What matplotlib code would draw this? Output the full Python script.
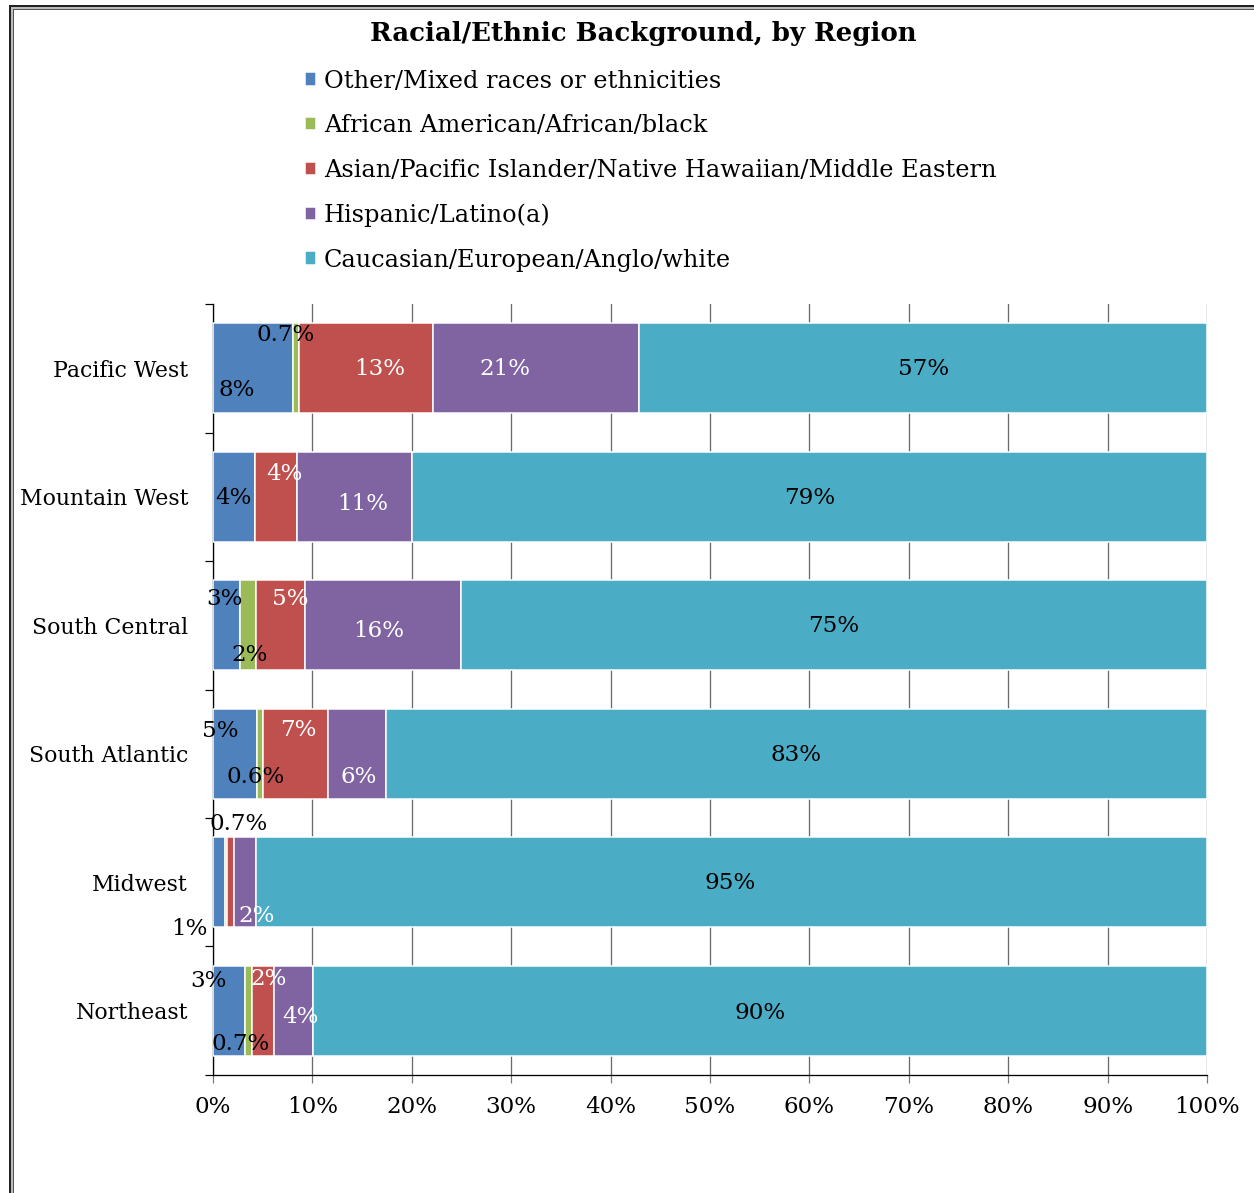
#!/usr/bin/env python3
"""
Racial/Ethnic Background, by Region -- stacked horizontal bars (percent of respondents).
"""

import numpy as np
import matplotlib.pyplot as plt
from matplotlib.lines import Line2D

regions = ['Pacific West', 'Mountain West', 'South Central', 'South Atlantic', 'Midwest', 'Northeast']
groups = ['Other/Mixed races or ethnicities',
          'African American/African/black',
          'Asian/Pacific Islander/Native Hawaiian/Middle Eastern',
          'Hispanic/Latino(a)',
          'Caucasian/European/Anglo/white']

# percent of each region, one list per group
other     = [8.0, 4.2, 2.7, 4.4, 1.2, 3.2]
african   = [0.7, 0.0, 1.6, 0.6, 0.2, 0.7]
asian     = [13.4, 4.3, 5.0, 6.6, 0.7, 2.2]
hispanic  = [20.8, 11.5, 15.6, 5.8, 2.2, 4.0]
caucasian = [57.1, 80.0, 75.1, 82.6, 95.7, 89.9]

# data label text as printed on the chart ('' = no label)
lab_other     = ['8%', '4%', '3%', '5%', '1%', '3%']
lab_african   = ['0.7%', '', '2%', '0.6%', '', '0.7%']
lab_asian     = ['13%', '4%', '5%', '7%', '0.7%', '2%']
lab_hispanic  = ['21%', '11%', '16%', '6%', '2%', '4%']
lab_caucasian = ['57%', '79%', '75%', '83%', '95%', '90%']

colors = ['#4F81BD', '#9BBB59', '#C0504D', '#8064A2', '#4BACC6']
# label colour per group and region
text_colors = [
    ['black'] * 6,
    ['black'] * 6,
    ['white', 'white', 'white', 'white', 'black', 'white'],
    ['white'] * 6,
    ['black'] * 6,
]

# hand-dragged label offsets per group and region (pixels: dx right, dy down)
offsets = [
    [(-16, 22), (0, 1), (-2, -26), (-15, -23), (-30, 47), (-20, -30)],
    [(-10, -33), (0, 0), (2, 30), (-4, 23), (0, 0), (-8, 33)],
    [(14, 1), (8, -23), (10, -26), (3, -24), (8, -58), (6, -32)],
    [(-31, 1), (8, 7), (-4, 6), (2, 23), (12, 34), (7, 6)],
    [(0, 1), (0, 1), (0, 1), (0, 1), (-1, 1), (0, 2)],
]

plt.rcParams['font.family'] = 'DejaVu Serif'

fig = plt.figure(figsize=(1254 / 72, 1193 / 72), dpi=72)
ax = fig.add_axes([213 / 1254, 1 - 1075 / 1193, (1207 - 213) / 1254, (1075 - 304) / 1193])

series = [other, african, asian, hispanic, caucasian]
labels = [lab_other, lab_african, lab_asian, lab_hispanic, lab_caucasian]
y = np.arange(len(regions))
left = np.zeros(len(regions))
handles = []
for s, vals in enumerate(series):
    vals = np.array(vals)
    bars = ax.barh(y, vals, left=left, height=0.70, color=colors[s],
                   edgecolor='white', linewidth=1.5, label=groups[s], zorder=3)
    handles.append(bars)
    for i in range(len(regions)):
        if labels[s][i] == '':
            continue
        dx, dy = offsets[s][i]
        ax.annotate(labels[s][i], xy=(left[i] + vals[i] / 2, y[i]),
                    xytext=(dx, -dy), textcoords='offset points',
                    ha='center', va='center', fontsize=23,
                    color=text_colors[s][i], zorder=5, annotation_clip=False)
    left = left + vals

ax.set_xlim(0, 100)
ax.set_ylim(len(regions) - 0.5, -0.5)

ax.set_xticks(np.arange(0, 101, 10))
ax.set_xticklabels(['{}%'.format(v) for v in range(0, 101, 10)], fontsize=23)
ax.tick_params(axis='x', direction='out', length=8, width=1.2, color='#777777', pad=13)
ax.xaxis.grid(True, color='#6a6a6a', linewidth=1.3, zorder=0)
ax.set_axisbelow(True)

ax.set_yticks(y)
ax.set_yticklabels(regions, fontsize=22)
ax.tick_params(axis='y', which='major', length=0, pad=25)
ax.set_yticks(np.arange(-0.5, len(regions)), minor=True)
ax.tick_params(axis='y', which='minor', direction='out', length=8, width=1.2)

for side in ['top', 'right']:
    ax.spines[side].set_visible(False)
ax.spines['left'].set_linewidth(1.3)
ax.spines['bottom'].set_linewidth(1.3)

fig.text(643 / 1254, 1 - 33 / 1193, 'Racial/Ethnic Background, by Region',
         ha='center', va='center', fontsize=26, fontweight='bold')

fig.legend(handles=handles, labels=groups, loc='upper left',
           bbox_to_anchor=(295 / 1254, 1 - 60 / 1193), frameon=False,
           fontsize=24, handlelength=0.48, handleheight=0.48,
           handletextpad=0.33, labelspacing=0.9, borderaxespad=0)

# double frame round the chart area
for xx, c, lw in [(9.5, '#222222', 2.0), (11.5, '#bbbbbb', 2.0), (13, '#555555', 1.0)]:
    fig.add_artist(Line2D([xx / 1254, xx / 1254], [0, 1 - (xx - 4) / 1193],
                          color=c, linewidth=lw, transform=fig.transFigure))
    fig.add_artist(Line2D([xx / 1254, 1], [1 - (xx - 4) / 1193, 1 - (xx - 4) / 1193],
                          color=c, linewidth=lw, transform=fig.transFigure))

fig.savefig('out.png', dpi=72)
